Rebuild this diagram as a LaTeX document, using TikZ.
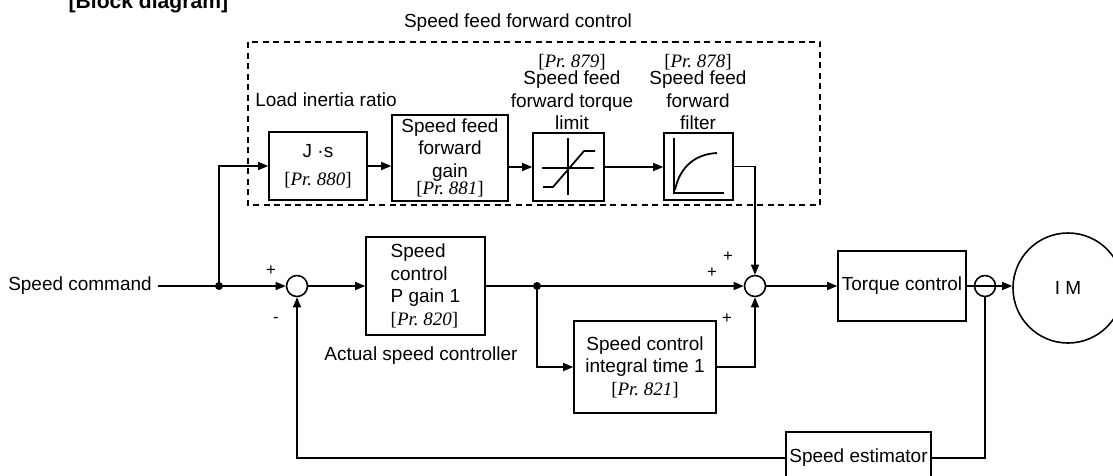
\documentclass[tikz,border=0pt]{standalone}
\usepackage{fontspec}
\setmainfont{Liberation Sans}
\newfontfamily\prfont{Liberation Serif}
\usetikzlibrary{arrows.meta,calc}
\newcommand{\parref}[1]{{\prfont[\textit{Pr.\ #1}]}}

\begin{document}
\begin{tikzpicture}[x=0.2mm,y=-0.2mm,
  font=\fontsize{10.8}{12.8}\selectfont,
  >={Triangle[length=2mm,width=1.6mm]},
  line width=0.8pt,
  block/.style={rectangle,draw,line width=0.9pt,inner sep=0pt,align=center},
  sumpt/.style={circle,draw,line width=0.9pt,minimum size=4.2mm,inner sep=0pt},
  junction/.style={circle,fill,inner sep=0pt,minimum size=1.6mm},
  sign/.style={inner sep=0pt,font=\fontsize{9.5}{10}\selectfont}]
\useasboundingbox (0,0) rectangle (1113,475);

% title
\node[font=\bfseries\fontsize{12}{14}\selectfont,anchor=base west,inner sep=0pt] (title) at (68,8) {[Block diagram]};

% speed feed forward part
\node (fflbl) at (518,23) {Speed feed forward control};
\draw[dash pattern=on 1.2mm off 0.9mm] (248,42) rectangle (820,205);
\node (loadlbl) at (326,100) {Load inertia ratio};
\node[block,minimum width=19.6mm,minimum height=13.6mm] (js) at (318,166) {J ·s\\[1mm]\parref{880}};
\node[block,minimum width=23.2mm,minimum height=17.2mm] (ffgain) at (450,158) {Speed feed\\forward\\gain\\[-1mm]\parref{881}};
\node[block,minimum width=14.2mm,minimum height=13.6mm] (limit) at (568.5,167) {};
\node[block,minimum width=13.8mm,minimum height=13.4mm] (filter) at (698.5,166.5) {};
\node[align=center] (limlbl) at (572,92) {\parref{879}\\[-1mm]Speed feed\\forward torque\\limit};
\node[align=center] (fillbl) at (698,92) {\parref{878}\\[-1mm]Speed feed\\forward\\filter};

% icons
\draw[line width=1pt] (568,138) -- (568,195) (542,168) -- (594,168);
\draw[line width=1pt] (543,187) -- (553,187) -- (584,151) -- (595,151);
\draw[line width=1pt] (674,138) -- (674,193) -- (724,193);
\draw[line width=1pt] (675,190) .. controls (680,166) and (696,154) .. (717,153);

% main loop
\node (cmd) at (80,286) {Speed command};
\node[junction] (dot1) at (219,286) {};
\node[sumpt] (sum1) at (297,286) {};
\node[block,align=left,minimum width=23.8mm,minimum height=19.6mm] (pgain) at (425.5,286) {Speed\\control\\P gain 1\\\parref{820}};
\node (actlbl) at (421,356) {Actual speed controller};
\node[junction] (dot2) at (537,286) {};
\node[block,minimum width=28.4mm,minimum height=18.4mm] (integ) at (645,367) {Speed control\\integral time 1\\\parref{821}};
\node[sumpt] (sum2) at (755,286) {};
\node[block,minimum width=25.6mm,minimum height=14mm] (torque) at (902,286) {Torque control};
\node[sumpt] (det) at (985,286) {};
\node[circle,draw,line width=0.9pt,minimum size=22mm] (im) at (1068,288) {I M};
\node[block,minimum width=29mm,minimum height=10.4mm] (est) at (858.5,458) {Speed estimator};

% signs
\node[sign] (p1) at (271,271) {+};
\node[sign] (m1) at (276,320) {-};
\node[sign] (p2) at (728,257) {+};
\node[sign] (p3) at (712,273) {+};
\node[sign] (p4) at (727,319) {+};

% connections
\draw[->] (cmd.east) -- (sum1.west);
\draw[->] (dot1.center) |- (js.west);
\draw[->] (js.east) -- (js.east -| ffgain.west);
\draw[->] (limit.west -| ffgain.east) -- (limit.west);
\draw[->] (limit.east) -- (limit.east -| filter.west);
\draw[->] (filter.east) -| (sum2.north);
\draw[->] (sum1.east) -- (pgain.west);
\draw[->] (pgain.east) -- (sum2.west);
\draw[->] (dot2.center) |- (integ.west);
\draw[->] (integ.east) -| (sum2.south);
\draw[->] (sum2.east) -- (torque.west);
\draw[->] (torque.east) -- (torque.east -| im.west);
\draw (det.south) |- (est.east);
\draw[->] (est.west) -| (sum1.south);

\end{tikzpicture}
\end{document}
